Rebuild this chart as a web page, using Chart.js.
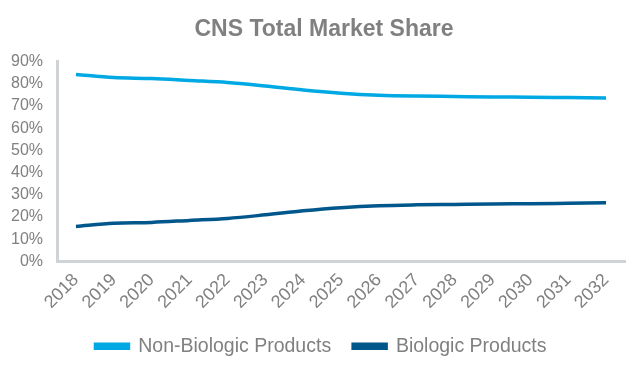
<!DOCTYPE html>
<html>
<head>
<meta charset="utf-8">
<script src="https://cdn.jsdelivr.net/npm/chart.js@4/dist/chart.umd.min.js"></script>
<style>
  html, body { margin: 0; padding: 0; background: #fff; }
  #wrap { width: 642px; height: 372px; position: relative; }
</style>
</head>
<body>
<div id="wrap"><canvas id="cvs"></canvas></div>
<script>
/* data */
const years = ['2018','2019','2020','2021','2022','2023','2024','2025','2026','2027','2028','2029','2030','2031','2032'];
const nonBiologic = [84.2, 82.8, 82.4, 81.5, 80.6, 79.0, 77.2, 75.8, 74.9, 74.5, 74.3, 74.1, 74.0, 73.8, 73.6];
const biologic    = [15.8, 17.2, 17.6, 18.5, 19.4, 21.0, 22.8, 24.2, 25.1, 25.5, 25.7, 25.9, 26.0, 26.2, 26.4];
const yTicks = [0, 10, 20, 30, 40, 50, 60, 70, 80, 90];

const grey = '#808080';
const lightBlue = '#00A9E3';
const darkBlue = '#00578B';
const font = 'Liberation Sans, Arial, sans-serif';

// nudge title and legend a bit right, like the original
const nudge = {
  id: 'nudge',
  afterLayout(chart) {
    if (chart.titleBlock) chart.titleBlock.left += 15;
    if (chart.legend) chart.legend.left += 9;
  }
};

const cvs = document.getElementById('cvs');
new Chart(cvs, {
  type: 'line',
  data: {
    labels: years,
    datasets: [
      { label: 'Non-Biologic Products', data: nonBiologic, borderColor: lightBlue, backgroundColor: lightBlue,
        borderWidth: 3.5, pointRadius: 0, cubicInterpolationMode: 'monotone' },
      { label: 'Biologic Products', data: biologic, borderColor: darkBlue, backgroundColor: darkBlue,
        borderWidth: 3.5, pointRadius: 0, cubicInterpolationMode: 'monotone' }
    ]
  },
  options: {
    responsive: true, maintainAspectRatio: false, animation: false,
    layout: { padding: { left: 8, right: 17, top: 0, bottom: 6 } },
    plugins: {
      title: { display: true, text: 'CNS Total Market Share', color: grey,
        font: { family: font, size: 23, weight: 'bold' }, padding: { top: 16, bottom: 18 } },
      legend: {
        position: 'bottom',
        labels: { color: grey, font: { family: font, size: 19.5 }, boxWidth: 33, boxHeight: 4, padding: 22 }
      },
      tooltip: { enabled: false }
    },
    scales: {
      x: {
        offset: true,
        grid: { display: false },
        border: { color: '#d0d3d6', width: 3 },
        ticks: { color: grey, font: { family: font, size: 18 }, minRotation: 45, maxRotation: 45, padding: 0, autoSkip: false },
        afterFit: ax => { ax.height = 53; }
      },
      y: {
        min: 0, max: 90,
        afterBuildTicks: ax => { ax.ticks = yTicks.map(v => ({ value: v })); },
        grid: { display: false, drawTicks: false },
        border: { color: '#d0d3d6', width: 3 },
        ticks: { color: grey, font: { family: font, size: 16 }, padding: 14, autoSkip: false, callback: v => v + '%' },
        afterFit: ax => { ax.width = 49; }
      }
    }
  },
  plugins: [nudge]
});
</script>
</body>
</html>
